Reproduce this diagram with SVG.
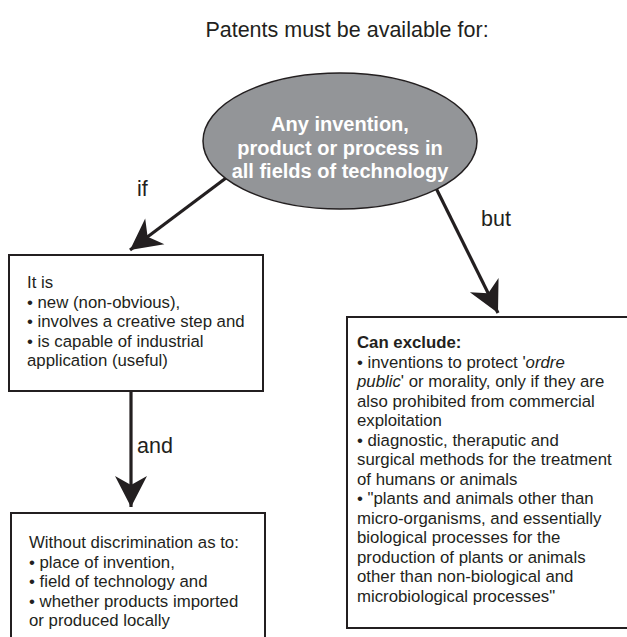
<svg xmlns="http://www.w3.org/2000/svg" width="627" height="637" viewBox="0 0 627 637">
  <style>
    text { font-family: "Liberation Sans", Arial, sans-serif; fill: #231f20; }
    .title { font-size: 21.5px; text-anchor: middle; }
    .label { font-size: 21.5px; }
    .oval-text { font-size: 20px; font-weight: bold; fill: #ffffff; text-anchor: middle; }
    .body { font-size: 16.8px; }
    .box { fill: #ffffff; stroke: #231f20; stroke-width: 2; }
    .oval { fill: #939598; stroke: #231f20; stroke-width: 1.5; }
    .conn { stroke: #231f20; stroke-width: 3.2; fill: none; }
  </style>
  <defs>
    <marker id="head" markerUnits="userSpaceOnUse" markerWidth="40" markerHeight="40" refX="0" refY="0" viewBox="-32 -20 36 40" orient="auto" overflow="visible">
      <path d="M0,0 L-31,-16 L-22,0 L-31,16 Z" fill="#231f20"/>
    </marker>
  </defs>

  <rect width="627" height="637" fill="#ffffff"/>

  <text class="title" x="347" y="37">Patents must be available for:</text>

  <!-- connectors -->
  <g id="connectors">
    <line class="conn" x1="226" y1="178" x2="130" y2="250" marker-end="url(#head)"/>
    <line class="conn" x1="433" y1="182" x2="498" y2="313" marker-end="url(#head)"/>
    <line class="conn" x1="131" y1="392" x2="131" y2="507" marker-end="url(#head)"/>
    <text class="label" x="137" y="196">if</text>
    <text class="label" x="481" y="226">but</text>
    <text class="label" x="137" y="453">and</text>
  </g>

  <g id="scope">
    <ellipse class="oval" cx="340" cy="141" rx="137" ry="68"/>
    <text class="oval-text" x="340" y="131">Any invention,</text>
    <text class="oval-text" x="340" y="155">product or process in</text>
    <text class="oval-text" x="340" y="178">all fields of technology</text>
  </g>

  <g id="conditions">
    <rect class="box" x="9" y="255" width="254" height="136"/>
    <text class="body" x="27" y="288">It is</text>
    <text class="body" x="27" y="307.5">• new (non-obvious),</text>
    <text class="body" x="27" y="327">• involves a creative step and</text>
    <text class="body" x="27" y="346.5">• is capable of industrial</text>
    <text class="body" x="27" y="366">application (useful)</text>
  </g>

  <g id="exclusions">
    <rect class="box" x="347" y="317" width="300" height="311"/>
    <text class="body" x="357" y="348" font-weight="bold">Can exclude:</text>
    <text class="body" x="357" y="367.5">• inventions to protect '<tspan font-style="italic">ordre</tspan></text>
    <text class="body" x="357" y="387"><tspan font-style="italic">public</tspan>' or morality, only if they are</text>
    <text class="body" x="357" y="406.5">also prohibited from commercial</text>
    <text class="body" x="357" y="426">exploitation</text>
    <text class="body" x="357" y="445.5">• diagnostic, theraputic and</text>
    <text class="body" x="357" y="465">surgical methods for the treatment</text>
    <text class="body" x="357" y="484.5">of humans or animals</text>
    <text class="body" x="357" y="504">• "plants and animals other than</text>
    <text class="body" x="357" y="523.5">micro-organisms, and essentially</text>
    <text class="body" x="357" y="543">biological processes for the</text>
    <text class="body" x="357" y="562.5">production of plants or animals</text>
    <text class="body" x="357" y="582">other than non-biological and</text>
    <text class="body" x="357" y="601.5">microbiological processes"</text>
  </g>

  <g id="nondiscrimination">
    <rect class="box" x="11" y="513" width="254" height="150"/>
    <text class="body" x="29" y="548">Without discrimination as to:</text>
    <text class="body" x="29" y="567.5">• place of invention,</text>
    <text class="body" x="29" y="587">• field of technology and</text>
    <text class="body" x="29" y="606.5">• whether products imported</text>
    <text class="body" x="29" y="626">or produced locally</text>
  </g>
</svg>
